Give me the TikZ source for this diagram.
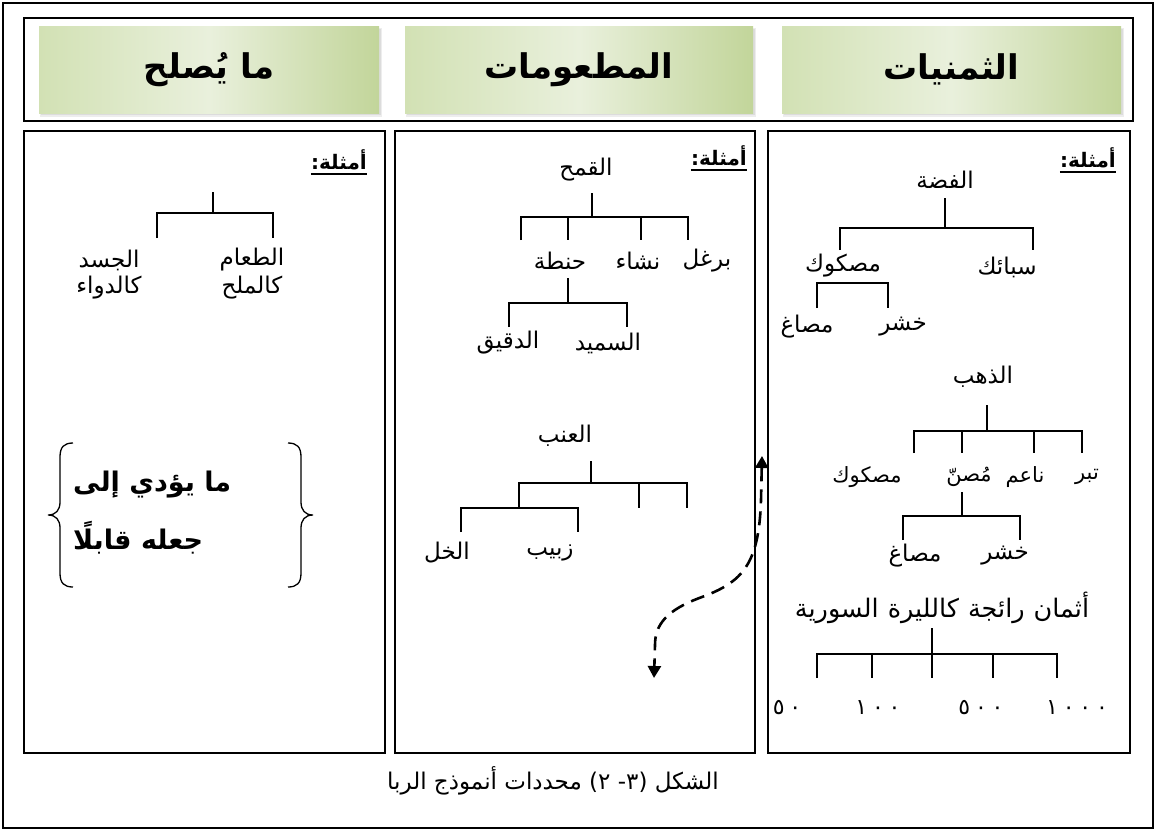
\documentclass[tikz,border=0pt]{standalone}
\usepackage{fontspec}
\usetikzlibrary{arrows.meta}
\TeXXeTstate=1
\newfontfamily\arfont[Script=Arabic]{DejaVu Sans}
\newfontfamily\numfont{DejaVu Sans}
\newfontfamily\digitfont[LetterSpace=22]{DejaVu Sans}
\newcommand\rtl[1]{\beginR #1\endR}
\definecolor{tileL}{HTML}{D2E1B4}
\definecolor{tileM}{HTML}{E9F0DC}
\definecolor{tileR}{HTML}{C2D59A}
\tikzset{
  x=1pt, y=-1pt,
  frame/.style={draw=black, line width=1.6pt},
  tline/.style={draw=black, line width=1.4pt},
  lbl/.style={font=\arfont\fontsize{23}{26}\selectfont, inner sep=0pt},
  smlbl/.style={font=\arfont\fontsize{21}{24}\selectfont, inner sep=0pt},
  numlbl/.style={font=\digitfont\fontsize{22}{24}\selectfont, inner sep=0pt},
  exlbl/.style={font=\arfont\bfseries\fontsize{20}{23}\selectfont, inner sep=0pt, anchor=base east},
  tile/.style={inner sep=0pt, minimum width=#1, minimum height=87pt,
    left color=tileL, right color=tileR, middle color=tileM,
    font=\arfont\bfseries\fontsize{34}{38}\selectfont},
  tileshadow/.style={fill=black, opacity=0.07},
  boldtxt/.style={font=\arfont\bfseries\fontsize{27}{30}\selectfont, inner sep=0pt, anchor=west},
  dasharrow/.style={draw=black, line width=2.6pt, dash pattern=on 14pt off 8pt,
    {Triangle[width=13pt,length=12pt]}-{Triangle[width=13pt,length=12pt]}},
}
\begin{document}
\begin{tikzpicture}
\useasboundingbox (0,0) rectangle (1158,831);
\fill[white] (0,0) rectangle (1158,831);

% frames
\draw[frame] (3,3) rectangle (1153,828);
\draw[frame] (24,18) rectangle (1133,121);
\draw[frame] (24,131) rectangle (385,753);
\draw[frame] (395,131) rectangle (755,753);
\draw[frame] (768,131) rectangle (1130,753);

% header tiles with soft shadows
\foreach \a/\b in {39/379, 405/753, 782/1121}{
  \fill[tileshadow] (\a+1,28) rectangle (\b+3,117);
  \fill[tileshadow] (\a+2,29) rectangle (\b+2,115);
}
\node[tile=340pt] (hA) at (209,69.5) {\rtl{ما يُصلح}};
\node[tile=348pt] (hB) at (579,69.5) {\rtl{المطعومات}};
\node[tile=339pt] (hC) at (951.5,69.5) {\rtl{الثمنيات}};

% "examples" headings
\node[exlbl] (exC) at (1116,167) {\rtl{أمثلة:}};
\node[exlbl] (exB) at (747,165) {\rtl{أمثلة:}};
\node[exlbl] (exA) at (367,169) {\rtl{أمثلة:}};
\foreach \n in {exA,exB,exC}
  \draw[line width=1.3pt] ([yshift=-5pt]\n.base west) -- ([yshift=-5pt]\n.base east);

% ---------- precious metals column ----------
\node[lbl] (fidda) at (945,180) {\rtl{الفضة}};
\node[lbl] (maskukA) at (843,266) {\rtl{مصكوك}};
\node[lbl] (sabaik) at (1007,267) {\rtl{سبائك}};
\node[lbl] (masaghA) at (807,327) {\rtl{مصاغ}};
\node[lbl] (khashrA) at (903,327) {\rtl{خشر}};
\draw[tline] (945,198) -- (945,228) (840,250) -- (840,228) -- (1033,228) -- (1033,250);
\draw[tline] (817,308) -- (817,283) -- (888,283) -- (888,308);

\node[lbl] (dhahab) at (983,377) {\rtl{الذهب}};
\node[smlbl] (maskukB) at (867,477) {\rtl{مصكوك}};
\node[smlbl] (musann) at (969,477) {\rtl{مُصنّ}};
\node[smlbl] (naim) at (1025,477) {\rtl{ناعم}};
\node[smlbl] (tibr) at (1087,477) {\rtl{تبر}};
\node[lbl] (masaghB) at (915,556) {\rtl{مصاغ}};
\node[lbl] (khashrB) at (1005,556) {\rtl{خشر}};
\draw[tline] (987,405) -- (987,431) (914,453) -- (914,431) -- (1082,431) -- (1082,453)
  (962,431) -- (962,453) (1034,431) -- (1034,453);
\draw[tline] (962,492) -- (962,516) (903,540) -- (903,516) -- (1020,516) -- (1020,540);

\node[lbl, font=\arfont\fontsize{25.5}{28}\selectfont] (athman) at (942,608)
  {\spaceskip=9pt\rtl{أثمان رائجة كالليرة السورية}};
\node[numlbl] (nA) at (787,708) {٥٠};
\node[numlbl] (nB) at (878,708) {١٠٠};
\node[numlbl] (nC) at (981,708) {٥٠٠};
\node[numlbl] (nD) at (1077,708) {١٠٠٠};
\draw[tline] (932,628) -- (932,678) (817,678) -- (817,654) -- (1057,654) -- (1057,678)
  (872,654) -- (872,678) (993,654) -- (993,678);

% ---------- foodstuffs column ----------
\node[lbl] (qamh) at (586,170) {\rtl{القمح}};
\node[lbl] (burghul) at (707,261) {\rtl{برغل}};
\node[lbl] (nasha) at (638,261) {\rtl{نشاء}};
\node[lbl] (hinta) at (560,261) {\rtl{حنطة}};
\node[lbl] (samid) at (608,343) {\rtl{السميد}};
\node[lbl] (daqiq) at (508,343) {\rtl{الدقيق}};
\draw[tline] (592,193) -- (592,217) (521,240) -- (521,217) -- (688,217) -- (688,240)
  (568,217) -- (568,240) (641,217) -- (641,240);
\draw[tline] (568,278) -- (568,303) (509,327) -- (509,303) -- (627,303) -- (627,327);

\node[lbl] (inab) at (565,436) {\rtl{العنب}};
\node[lbl] (khall) at (447,553) {\rtl{الخل}};
\node[lbl] (zabib) at (550,553) {\rtl{زبيب}};
\draw[tline] (591,461) -- (591,483) (519,508) -- (519,483) -- (687,483) -- (687,508)
  (639,483) -- (639,508);
\draw[tline] (461,532) -- (461,508) -- (578,508) -- (578,532);

% two-way dashed arrow
\coordinate (arrTop) at (762,456);
\coordinate (arrBot) at (654,678);
\draw[dasharrow] (arrTop) -- (761,500) .. controls (759,565) and (742,582) .. (702,597)
  .. controls (666,610) and (655,625) .. (655,645) -- (arrBot);

% ---------- what is fit column ----------
\node[lbl] (taam) at (252,260) {\rtl{الطعام}};
\node[lbl] (milh) at (252,288) {\rtl{كالملح}};
\node[lbl] (jasad) at (109,260) {\rtl{الجسد}};
\node[lbl] (dawa) at (109,288) {\rtl{كالدواء}};
\draw[tline] (213,192) -- (213,213) (157,238) -- (157,213) -- (273,213) -- (273,238);

\node[boldtxt] (lineA) at (73,485) {\rtl{ما يؤدي إلى}};
\node[boldtxt] (lineB) at (73,538) {\rtl{جعله قابلًا}};
\draw[line width=1.3pt] (73,443) .. controls (64,443) and (60,447) .. (60,457) -- (60,502)
  .. controls (60,510) and (56,515) .. (48,515) .. controls (56,515) and (60,520) .. (60,528)
  -- (60,573) .. controls (60,583) and (64,587) .. (73,587);
\draw[line width=1.3pt] (288,443) .. controls (297,443) and (301,447) .. (301,457) -- (301,502)
  .. controls (301,510) and (305,515) .. (313,515) .. controls (305,515) and (301,520) .. (301,528)
  -- (301,573) .. controls (301,583) and (297,587) .. (288,587);

% caption
\node[lbl, font=\arfont\fontsize{23}{26}\selectfont] (caption) at (553,781)
  {\beginR الشكل \beginL{\numfont(٢ -٣)}\endL{} محددات أنموذج الربا\endR};
\end{tikzpicture}
\end{document}
